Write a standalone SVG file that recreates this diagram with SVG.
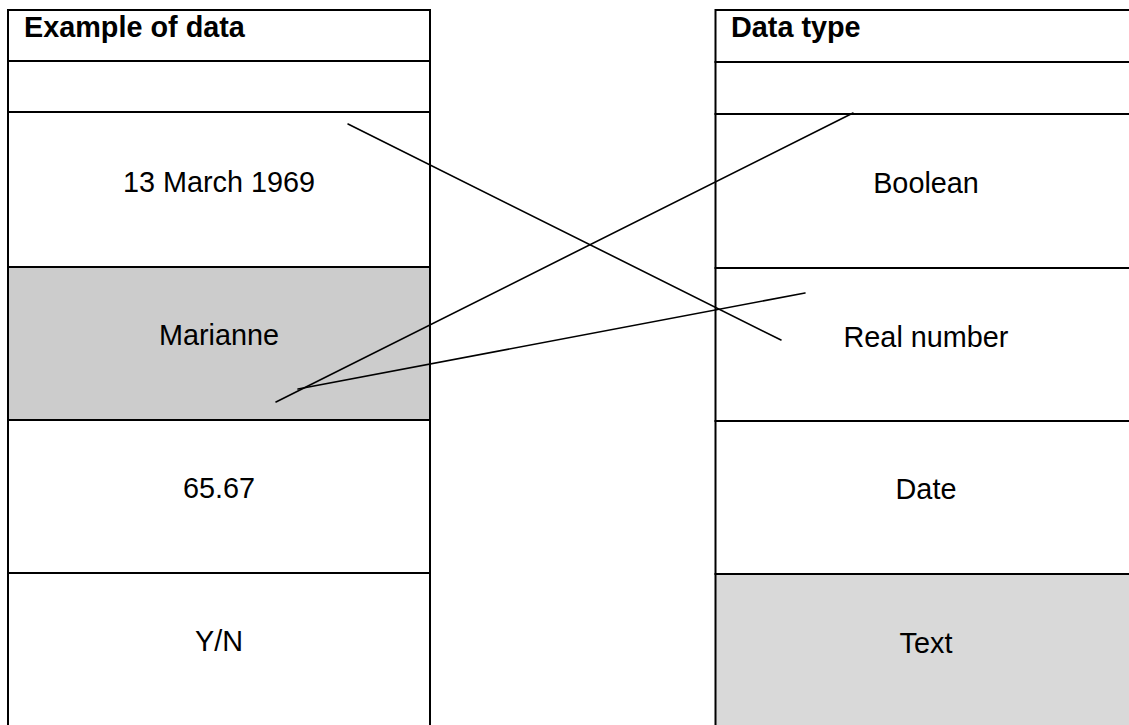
<svg xmlns="http://www.w3.org/2000/svg" width="1129" height="725" viewBox="0 0 1129 725">
  <style>
    .cell { fill: #ffffff; stroke: #000000; stroke-width: 2; }
    .shade { fill: #cccccc; }
    .shade2 { fill: #d9d9d9; }
    .lbl { font-family: "Liberation Sans", Arial, sans-serif; font-size: 28.8px; fill: #000000; text-anchor: middle; }
    .head { font-family: "Liberation Sans", Arial, sans-serif; font-size: 28.8px; font-weight: bold; fill: #000000; }
    .link { stroke: #000000; stroke-width: 1.6; fill: none; stroke-linecap: round; }
  </style>
  <rect width="1129" height="725" fill="#ffffff"/>

  <!-- Left table: examples of data -->
  <g id="left-header">
    <rect class="cell" x="8" y="10" width="422" height="51"/>
    <text class="head" x="24" y="37">Example of data</text>
  </g>
  <g id="left-blank">
    <rect class="cell" x="8" y="61" width="422" height="51"/>
  </g>
  <g id="ex-date">
    <rect class="cell" x="8" y="112" width="422" height="155"/>
    <text class="lbl" x="219" y="192">13 March 1969</text>
  </g>
  <g id="ex-marianne">
    <rect class="cell shade" x="8" y="267" width="422" height="153"/>
    <text class="lbl" x="219" y="345">Marianne</text>
  </g>
  <g id="ex-number">
    <rect class="cell" x="8" y="420" width="422" height="153"/>
    <text class="lbl" x="219" y="498">65.67</text>
  </g>
  <g id="ex-yn">
    <rect class="cell" x="8" y="573" width="422" height="160"/>
    <text class="lbl" x="219" y="651">Y/N</text>
  </g>

  <!-- Right table: data types -->
  <g id="right-header">
    <rect class="cell" x="715.5" y="10" width="430" height="52"/>
    <text class="head" x="731" y="37">Data type</text>
  </g>
  <g id="right-blank">
    <rect class="cell" x="715.5" y="62" width="430" height="52"/>
  </g>
  <g id="type-boolean">
    <rect class="cell" x="715.5" y="114" width="430" height="154"/>
    <text class="lbl" x="926" y="193">Boolean</text>
  </g>
  <g id="type-real">
    <rect class="cell" x="715.5" y="268" width="430" height="153"/>
    <text class="lbl" x="926" y="347">Real number</text>
  </g>
  <g id="type-date">
    <rect class="cell" x="715.5" y="421" width="430" height="153"/>
    <text class="lbl" x="926" y="499">Date</text>
  </g>
  <g id="type-text">
    <rect class="cell shade2" x="715.5" y="574" width="430" height="160"/>
    <text class="lbl" x="926" y="653">Text</text>
  </g>

  <!-- Matching lines -->
  <g id="connectors">
    <line class="link" x1="348" y1="124" x2="781" y2="340"/>
    <line class="link" x1="276" y1="402" x2="853" y2="113"/>
    <line class="link" x1="298" y1="389" x2="805" y2="293"/>
  </g>
</svg>
